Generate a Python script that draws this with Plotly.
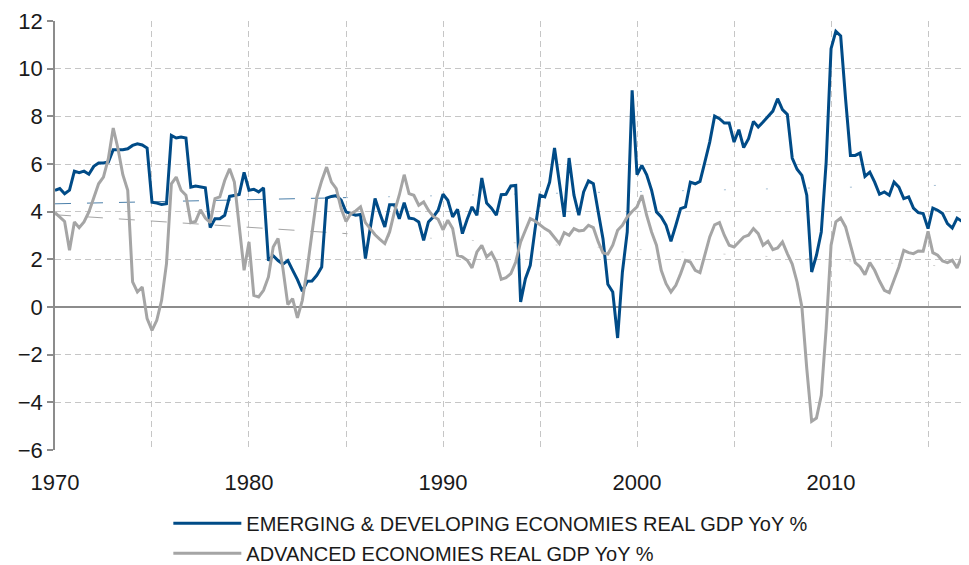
import pandas as pd
import plotly.graph_objects as go

# ---------------- data (quarterly, starting 1970 Q1) ----------------
start_date = "1970-01-01"

emerging = [
    4.90, 4.97, 4.75, 4.90,   # 1970
    5.70, 5.64, 5.70, 5.57,   # 1971
    5.90, 6.04, 6.04, 6.08,   # 1972
    6.60, 6.60, 6.60, 6.64,   # 1973
    6.78, 6.85, 6.80, 6.67,   # 1974
    4.40, 4.36, 4.30, 4.33,   # 1975
    7.20, 7.09, 7.13, 7.09,   # 1976
    5.03, 5.08, 5.03, 5.00,   # 1977
    3.33, 3.70, 3.70, 3.85,   # 1978
    4.64, 4.69, 4.72, 5.65,   # 1979
    4.90, 4.94, 4.83, 5.00,   # 1980
    1.95, 2.15, 1.95, 1.80,   # 1981
    1.95, 1.55, 1.15, 0.66,   # 1982
    1.08, 1.09, 1.33, 1.68,   # 1983
    4.57, 4.64, 4.67, 4.48,   # 1984
    3.99, 3.92, 3.85, 3.88,   # 1985
    2.03, 3.29, 4.55, 3.92,   # 1986
    3.36, 4.29, 4.29, 3.70,   # 1987
    4.38, 3.73, 3.70, 3.57,   # 1988
    2.80, 3.57, 3.78, 4.06,   # 1989
    4.73, 4.48, 3.78, 4.10,   # 1990
    3.08, 3.68, 4.20, 3.85,   # 1991
    5.41, 4.36, 4.15, 3.85,   # 1992
    4.71, 4.73, 5.08, 5.10,   # 1993
    0.21, 1.19, 1.75, 3.29,   # 1994
    4.69, 4.62, 5.24, 6.67,   # 1995
    5.10, 3.78, 6.25, 4.69,   # 1996
    3.85, 4.83, 5.29, 5.17,   # 1997
    3.99, 2.85, 0.95, 0.63,   # 1998
    -1.30, 1.47, 3.15, 9.09,  # 1999
    5.55, 5.94, 5.55, 4.90,   # 2000
    3.99, 3.78, 3.43, 2.76,   # 2001
    3.43, 4.13, 4.20, 5.24,   # 2002
    5.17, 5.27, 6.08, 6.92,   # 2003
    8.01, 7.90, 7.72, 7.72,   # 2004
    6.92, 7.44, 6.69, 7.06,   # 2005
    7.79, 7.55, 7.76, 7.97,   # 2006
    8.22, 8.74, 8.28, 8.08,   # 2007
    6.25, 5.78, 5.52, 4.69,   # 2008
    1.47, 2.17, 3.15, 6.08,   # 2009
    10.84, 11.57, 11.37, 8.74,  # 2010
    6.36, 6.36, 6.46, 5.48,   # 2011
    5.66, 5.24, 4.73, 4.83,   # 2012
    4.69, 5.24, 5.03, 4.55,   # 2013
    4.62, 4.15, 3.96, 3.92,   # 2014
    3.29, 4.15, 4.06, 3.92,   # 2015
    3.50, 3.31, 3.73, 3.59,   # 2016
    4.13,                     # 2017
]

advanced = [
    3.96, 3.78, 3.59, 2.38,   # 1970
    3.57, 3.33, 3.57, 3.99,   # 1971
    4.55, 5.17, 5.45, 6.22,   # 1972
    7.51, 6.64, 5.55, 4.90,   # 1973
    1.05, 0.63, 0.84, -0.49,  # 1974
    -0.98, -0.56, 0.28, 1.82, # 1975
    5.17, 5.45, 4.90, 4.69,   # 1976
    3.54, 3.59, 4.08, 3.73,   # 1977
    3.54, 4.55, 4.62, 5.31,   # 1978
    5.80, 5.24, 3.40, 1.54,   # 1979
    2.73, 0.49, 0.42, 0.70,   # 1980
    1.26, 2.52, 2.87, 1.61,   # 1981
    0.10, 0.35, -0.46, 0.28,  # 1982
    1.61, 3.01, 4.60, 5.30,   # 1983
    5.87, 5.24, 4.97, 4.13,   # 1984
    3.59, 3.92, 4.03, 4.20,   # 1985
    3.54, 3.29, 3.03, 2.84,   # 1986
    2.66, 3.15, 3.99, 4.70,   # 1987
    5.55, 4.76, 4.69, 4.27,   # 1988
    4.41, 4.06, 3.80, 3.68,   # 1989
    3.24, 3.64, 3.29, 2.17,   # 1990
    2.10, 1.96, 1.64, 2.31,   # 1991
    2.59, 2.10, 2.28, 1.89,   # 1992
    1.16, 1.23, 1.40, 1.89,   # 1993
    2.73, 3.22, 3.71, 3.61,   # 1994
    3.43, 3.29, 3.17, 2.90,   # 1995
    2.66, 3.12, 3.01, 3.29,   # 1996
    3.19, 3.22, 3.43, 3.33,   # 1997
    2.73, 2.27, 2.22, 2.59,   # 1998
    3.22, 3.43, 3.78, 4.01,   # 1999
    4.20, 4.69, 3.85, 3.15,   # 2000
    2.59, 1.54, 0.98, 0.63,   # 2001
    0.91, 1.40, 1.96, 1.89,   # 2002
    1.54, 1.44, 2.17, 2.94,   # 2003
    3.45, 3.54, 3.01, 2.59,   # 2004
    2.52, 2.73, 2.94, 3.01,   # 2005
    3.29, 3.08, 2.59, 2.76,   # 2006
    2.41, 2.48, 2.73, 2.24,   # 2007
    1.80, 1.05, 0.00, -2.59,  # 2008
    -4.80, -4.66, -3.71, -0.90,  # 2009
    2.59, 3.57, 3.73, 3.36,   # 2010
    2.59, 1.86, 1.68, 1.36,   # 2011
    1.86, 1.54, 1.09, 0.70,   # 2012
    0.60, 1.12, 1.68, 2.38,   # 2013
    2.28, 2.24, 2.35, 2.34,   # 2014
    3.17, 2.28, 2.17, 1.93,   # 2015
    1.86, 1.96, 1.64, 2.14,   # 2016
    2.31,                     # 2017
]

# faint dashed trend lines
trend_dates = ["1970-01-01", "1985-01-01", "2017-02-10"]
emerging_trend = [4.33, 4.59, 5.13]
advanced_trend = [3.87, 3.08, 1.66]

grid_years = [1970, 1975, 1980, 1985, 1990, 1995, 2000, 2005, 2010, 2015]
year_labels = ["1970", "", "1980", "", "1990", "", "2000", "", "2010", ""]
axis_tick_years = [1970, 1980, 1990, 2000, 2010]
y_ticks = [-6, -4, -2, 0, 2, 4, 6, 8, 10, 12]

x_range = ["1970-01-01", "2017-02-10"]

name_em = "EMERGING & DEVELOPING ECONOMIES REAL GDP YoY %"
name_adv = "ADVANCED ECONOMIES REAL GDP YoY %"

BLUE = "#004b87"
GREY = "#a5a5a5"
FONT = "Liberation Sans, Arial, sans-serif"
TEXT = "#1a1a1a"

# ---------------- figure ----------------
quarters = pd.date_range(start_date, periods=len(emerging), freq="QS")
quarters_adv = pd.date_range(start_date, periods=len(advanced), freq="QS")
grid_dates = [f"{y}-01-01" for y in grid_years]
axis_tick_dates = [f"{y}-01-01" for y in axis_tick_years]

fig = go.Figure()

# trend lines: visible early part, very faint later part
fig.add_trace(go.Scatter(x=trend_dates[:2], y=emerging_trend[:2], mode="lines",
                         line=dict(color=BLUE, width=1, dash="16px,16px"),
                         opacity=0.7, showlegend=False, hoverinfo="skip"))
fig.add_trace(go.Scatter(x=trend_dates[1:], y=emerging_trend[1:], mode="lines",
                         line=dict(color=BLUE, width=1, dash="2px,40px"),
                         opacity=0.35, showlegend=False, hoverinfo="skip"))
fig.add_trace(go.Scatter(x=trend_dates[:2], y=advanced_trend[:2], mode="lines",
                         line=dict(color="#7f7f7f", width=1, dash="16px,16px"),
                         opacity=0.7, showlegend=False, hoverinfo="skip"))
fig.add_trace(go.Scatter(x=trend_dates[1:], y=advanced_trend[1:], mode="lines",
                         line=dict(color="#7f7f7f", width=1, dash="2px,40px"),
                         opacity=0.35, showlegend=False, hoverinfo="skip"))

fig.add_trace(go.Scatter(x=quarters, y=emerging, mode="lines", name=name_em,
                         legendgroup="em",
                         line=dict(color=BLUE, width=3)))
fig.add_trace(go.Scatter(x=quarters_adv, y=advanced, mode="lines", name=name_adv,
                         legendgroup="adv",
                         line=dict(color=GREY, width=3)))

# The page body adds an 8px offset, so the figure is 8px smaller than the window.
fig.update_layout(
    width=961, height=557,
    margin=dict(l=47, r=0, t=13, b=115, autoexpand=False),
    paper_bgcolor="white", plot_bgcolor="white",
    font=dict(family=FONT, size=22, color=TEXT),
    xaxis=dict(
        type="date", range=x_range, automargin=False,
        tickmode="array", tickvals=grid_dates, ticktext=year_labels,
        showgrid=True, gridcolor="#c6c6c6", gridwidth=1, griddash="6px,4px",
        showline=False, zeroline=False, ticks="",
        ticklabelstandoff=17,
        tickfont=dict(size=22, color=TEXT),
    ),
    xaxis2=dict(
        type="date", range=x_range, overlaying="x", anchor="free",
        position=6 / 18, side="bottom", automargin=False,
        tickmode="array", tickvals=axis_tick_dates,
        ticks="outside", ticklen=5, tickwidth=1.5, tickcolor="#8c8c8c",
        showticklabels=False, showgrid=False, showline=False, zeroline=False,
    ),
    yaxis=dict(
        range=[-6, 12], tickmode="array", tickvals=y_ticks, automargin=False,
        showgrid=True, gridcolor="#c6c6c6", gridwidth=1, griddash="6px,4px",
        zeroline=True, zerolinecolor="#8c8c8c", zerolinewidth=1.5,
        showline=True, linecolor="#8c8c8c", linewidth=1.5,
        ticks="outside", ticklen=6, tickcolor="#8c8c8c", tickwidth=1.5,
        ticklabelstandoff=0,
        tickfont=dict(size=22, color=TEXT),
    ),
    legend=dict(
        orientation="v", x=0.124, xanchor="left", y=-0.125, yanchor="top",
        font=dict(size=20, color=TEXT, family=FONT),
        itemwidth=68, tracegroupgap=1, bgcolor="rgba(0,0,0,0)",
    ),
    showlegend=True,
)

fig.write_html("out.html")
